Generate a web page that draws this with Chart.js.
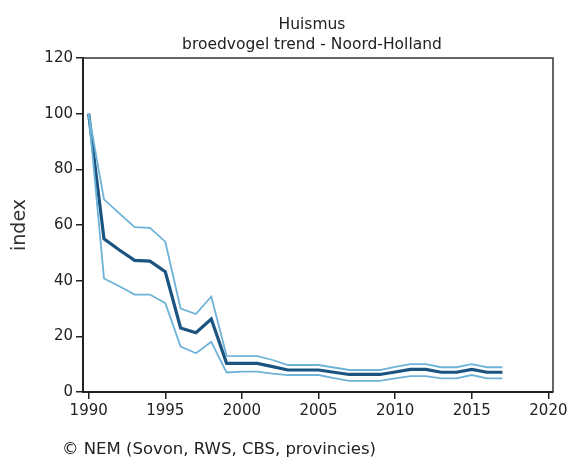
<!DOCTYPE html>
<html>
<head>
<meta charset="utf-8">
<script src="https://cdn.jsdelivr.net/npm/chart.js@4/dist/chart.umd.min.js"></script>
<style>
html,body{margin:0;padding:0;background:#fff;}
#wrap{width:571px;height:457px;}
</style>
</head>
<body>
<div id="wrap"><canvas id="c" width="571" height="457"></canvas></div>
<script>
const titleLines = ["Huismus", "broedvogel trend - Noord-Holland"];
const footerText = "\u00A9 NEM (Sovon, RWS, CBS, provincies)";
const yAxisLabel = "index";
const years = [1990,1991,1992,1993,1994,1995,1996,1997,1998,1999,2000,2001,2002,2003,2004,2005,2006,2007,2008,2009,2010,2011,2012,2013,2014,2015,2016,2017];
const indexMean  = [100,55,51,47.3,47,43.2,23,21.3,26.2,10.3,10.3,10.3,9.1,7.9,7.9,7.9,7.1,6.3,6.3,6.3,7.2,8.1,8.1,7.1,7.1,8.1,7.1,7.1];
const indexUpper = [100,69.2,64.2,59.2,59,54,30,28,34.3,13,12.9,12.9,11.5,9.7,9.7,9.7,8.8,7.9,7.9,7.9,9,10,10,8.9,8.9,10,8.9,8.9];
const indexLower = [100,40.8,38,35,35,31.9,16.3,13.9,18,7,7.3,7.3,6.6,6.1,6.1,6.1,5,4,4,4,4.9,5.7,5.7,4.9,4.9,6.1,4.9,4.9];
const xTicks = [1990,1995,2000,2005,2010,2015,2020];
const yTicks = [0,20,40,60,80,100,120];

const toPts = arr => years.map((yr,i)=>({x:yr,y:arr[i]}));
const FONT = "'DejaVu Sans', sans-serif";

const decor = {
  id:'decor',
  beforeDatasetsDraw(chart){
    const {ctx, chartArea:a} = chart;
    ctx.save();
    ctx.strokeStyle = '#333';
    ctx.lineWidth = 1.5;
    ctx.beginPath();
    ctx.moveTo(a.left, a.top); ctx.lineTo(a.right, a.top); ctx.lineTo(a.right, a.bottom);
    ctx.stroke();
    ctx.restore();
  },
  afterDraw(chart){
    const {ctx} = chart;
    ctx.save();
    ctx.fillStyle = '#222';
    ctx.textAlign = 'center';
    ctx.textBaseline = 'alphabetic';
    ctx.font = "15.5px " + FONT;
    ctx.fillText(titleLines[0], 312, 29);
    ctx.fillText(titleLines[1], 312, 49);
    ctx.textAlign = 'left';
    ctx.font = "16.5px " + FONT;
    ctx.fillText(footerText, 62, 454);
    ctx.restore();
  }
};

new Chart(document.getElementById('c'), {
  type:'line',
  data:{
    datasets:[
      {label:'upper', data:toPts(indexUpper), borderColor:'#6db3d8', borderWidth:1.8, pointRadius:0, tension:0, fill:false},
      {label:'lower', data:toPts(indexLower), borderColor:'#6db3d8', borderWidth:1.8, pointRadius:0, tension:0, fill:false},
      {label:'index', data:toPts(indexMean), borderColor:'#1b5480', borderWidth:3.2, pointRadius:0, tension:0, fill:false}
    ]
  },
  options:{
    responsive:false,
    animation:false,
    devicePixelRatio:1,
    layout:{padding:{top:58,right:18,left:0,bottom:0}},
    plugins:{legend:{display:false}, title:{display:false}, tooltip:{enabled:false}},
    scales:{
      x:{
        type:'linear', min:1989.63, max:2020.3,
        afterBuildTicks(s){ s.ticks = xTicks.map(v=>({value:v})); },
        afterFit(s){ s.height = 65; },
        grid:{display:true, drawOnChartArea:false, drawTicks:true, tickLength:7, color:'#222', lineWidth:1.5},
        border:{display:true, color:'#222', width:2},
        ticks:{color:'#222', font:{family:FONT, size:15}, padding:3, maxRotation:0, callback:v=>String(v)}
      },
      y:{
        type:'linear', min:0, max:120,
        afterBuildTicks(s){ s.ticks = yTicks.map(v=>({value:v})); },
        afterFit(s){ s.width = 83; },
        grid:{display:true, drawOnChartArea:false, drawTicks:true, tickLength:7, color:'#222', lineWidth:1.5},
        border:{display:true, color:'#222', width:2},
        title:{display:true, text:yAxisLabel, color:'#333', font:{family:FONT, size:19}, padding:{top:9,bottom:0}},
        ticks:{color:'#222', font:{family:FONT, size:15}, padding:3}
      }
    }
  },
  plugins:[decor]
});
</script>
</body>
</html>
